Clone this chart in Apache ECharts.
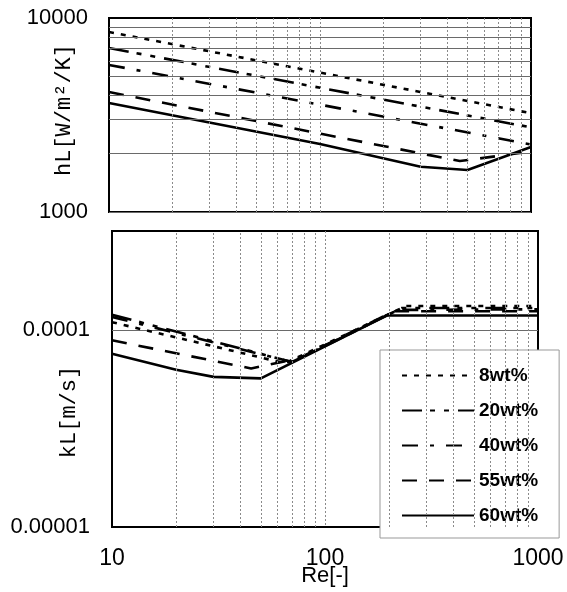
<!DOCTYPE html>
<html>
<head>
<meta charset="utf-8">
<script src="https://cdn.jsdelivr.net/npm/echarts@6/dist/echarts.min.js"></script>
<style>
html,body{margin:0;padding:0;background:#fff;}
#chart{width:567px;height:592px;}
</style>
</head>
<body>
<div id="chart"></div>
<script>
// ---- data ----
const SERIES_NAMES = ['8wt%', '20wt%', '40wt%', '55wt%', '60wt%'];
const RE_TICKS = [10, 100, 1000];
const RE_TICK_LABELS = ['10', '100', '1000'];
const HL_TICKS = [1000, 10000];
const HL_TICK_LABELS = ['1000', '10000'];
const KL_TICKS = [0.00001, 0.0001];
const KL_TICK_LABELS = ['0.00001', '0.0001'];
const RE_MINOR = [20, 30, 40, 50, 60, 70, 80, 90, 200, 300, 400, 500, 600, 700, 800, 900];
const HL_MINOR = [2000, 3000, 4000, 5000, 6000, 7000, 8000, 9000];
const KL_MINOR = [0.00002, 0.00003, 0.00004, 0.00005, 0.00006, 0.00007, 0.00008, 0.00009, 0.0002, 0.0003];

// hL [W/m2/K] vs Re
const HL_8 = [[10, 8470], [1000, 3230]];
const HL_20 = [[10, 7000], [1000, 2730]];
const HL_40 = [[10, 5730], [1000, 2230]];
const HL_55 = [[10, 4150], [460, 1830], [1000, 2050]];
const HL_60 = [[10, 3650], [100, 2240], [300, 1710], [500, 1646], [1000, 2163]];

// kL [m/s] vs Re
const KL_8 = [[10, 1.10e-4], [65, 6.8e-5], [240, 1.33e-4], [1000, 1.33e-4]];
const KL_20 = [[10, 1.20e-4], [70, 6.9e-5], [230, 1.30e-4], [1000, 1.30e-4]];
const KL_40 = [[10, 1.17e-4], [70, 6.9e-5], [220, 1.27e-4], [1000, 1.28e-4]];
const KL_55 = [[10, 8.9e-5], [45, 6.4e-5], [75, 7.2e-5], [210, 1.25e-4], [1000, 1.25e-4]];
const KL_60 = [[10, 7.6e-5], [20, 6.3e-5], [30, 5.8e-5], [50, 5.7e-5], [195, 1.19e-4], [1000, 1.19e-4]];

const HL_DATA = [HL_8, HL_20, HL_40, HL_55, HL_60];
const KL_DATA = [KL_8, KL_20, KL_40, KL_55, KL_60];

// ---- styles ----
const DASHES = [[5, 7], [20, 8, 5, 9, 5, 9], [16, 12, 4, 12], [15, 12], 'solid'];
const TICK_FONT = 'Liberation Sans, Arial, sans-serif';
const NAME_FONT = 'Liberation Mono, DejaVu Sans Mono, monospace';

function tickFormatter(ticks, labels) {
  return function (v) {
    for (let i = 0; i < ticks.length; i++) {
      if (Math.abs(v - ticks[i]) / ticks[i] < 1e-6) return labels[i];
    }
    return '';
  };
}

function minorMarkLine(xs, ys) {
  const data = [];
  xs.forEach(v => data.push({ xAxis: v, lineStyle: { color: '#8a8a8a', width: 1, type: [2, 2] } }));
  ys.forEach(v => data.push({ yAxis: v, lineStyle: { color: '#6a6a6a', width: 1, type: 'solid' } }));
  return { silent: true, symbol: ['none', 'none'], label: { show: false }, emphasis: { disabled: true }, data: data };
}

const series = [];
SERIES_NAMES.forEach((name, i) => {
  series.push({
    name: name, type: 'line', xAxisIndex: 0, yAxisIndex: 0, data: HL_DATA[i],
    symbol: 'none', z: 3,
    itemStyle: { color: '#000' },
    lineStyle: { color: '#000', width: 2.6, type: DASHES[i] },
    markLine: i === 0 ? minorMarkLine(RE_MINOR, HL_MINOR) : undefined
  });
});
SERIES_NAMES.forEach((name, i) => {
  series.push({
    name: name, type: 'line', xAxisIndex: 1, yAxisIndex: 1, data: KL_DATA[i],
    symbol: 'none', z: 3,
    itemStyle: { color: '#000' },
    lineStyle: { color: '#000', width: 2.6, type: DASHES[i] },
    markLine: i === 0 ? minorMarkLine(RE_MINOR, KL_MINOR) : undefined
  });
});

const gridCommon = { show: true, borderColor: '#000', borderWidth: 2, backgroundColor: 'transparent', containLabel: false, outerBoundsMode: 'none' };

const option = {
  animation: false,
  backgroundColor: '#fff',
  grid: [
    Object.assign({ left: 109, right: 36, top: 18, height: 194 }, gridCommon),
    Object.assign({ left: 112, right: 29, top: 231, height: 296 }, gridCommon)
  ],
  xAxis: [
    {
      type: 'log', logBase: 10, gridIndex: 0, min: RE_TICKS[0], max: RE_TICKS[RE_TICKS.length - 1],
      axisLine: { show: false }, axisTick: { show: false }, axisLabel: { show: false },
      splitLine: { show: true, showMinLine: false, showMaxLine: false, lineStyle: { color: '#8a8a8a', width: 1, type: [2, 2] } }
    },
    {
      type: 'log', logBase: 10, gridIndex: 1, min: RE_TICKS[0], max: RE_TICKS[RE_TICKS.length - 1],
      axisLine: { show: false }, axisTick: { show: false },
      axisLabel: { show: true, margin: 20, color: '#000', fontFamily: TICK_FONT, fontSize: 23, formatter: tickFormatter(RE_TICKS, RE_TICK_LABELS), showMinLabel: true, showMaxLabel: true },
      splitLine: { show: true, showMinLine: false, showMaxLine: false, lineStyle: { color: '#8a8a8a', width: 1, type: [2, 2] } },
      name: 'Re[-]', nameLocation: 'middle', nameGap: 38, nameMoveOverlap: false,
      nameTextStyle: { color: '#000', fontFamily: TICK_FONT, fontSize: 22 }
    }
  ],
  yAxis: [
    {
      type: 'log', logBase: 10, gridIndex: 0, min: HL_TICKS[0], max: HL_TICKS[HL_TICKS.length - 1],
      axisLine: { show: false }, axisTick: { show: false },
      axisLabel: { show: true, margin: 21, color: '#000', fontFamily: TICK_FONT, fontSize: 22, formatter: tickFormatter(HL_TICKS, HL_TICK_LABELS), showMinLabel: true, showMaxLabel: true },
      splitLine: { show: true, showMinLine: false, showMaxLine: false, lineStyle: { color: '#6a6a6a', width: 1 } },
      name: 'hL[W/m²/K]', nameLocation: 'middle', nameGap: 34, nameMoveOverlap: false,
      nameTextStyle: { color: '#000', fontFamily: NAME_FONT, fontSize: 22, padding: [0, 0, 0, 10] }
    },
    {
      type: 'log', logBase: 10, gridIndex: 1, min: KL_TICKS[0], max: 0.00032,
      axisLine: { show: false }, axisTick: { show: false },
      axisLabel: { show: true, margin: 22, color: '#000', fontFamily: TICK_FONT, fontSize: 22, formatter: tickFormatter(KL_TICKS, KL_TICK_LABELS), showMinLabel: true, showMaxLabel: true },
      splitLine: { show: true, showMinLine: false, showMaxLine: false, lineStyle: { color: '#6a6a6a', width: 1 } },
      name: 'kL[m/s]', nameLocation: 'middle', nameGap: 32, nameMoveOverlap: false,
      nameTextStyle: { color: '#000', fontFamily: NAME_FONT, fontSize: 22, padding: [0, 66, 0, 0] }
    }
  ],
  legend: {
    data: SERIES_NAMES,
    orient: 'vertical',
    left: 380, top: 350,
    itemWidth: 72, itemHeight: 14, itemGap: 16,
    padding: [16, 21, 13, 21],
    backgroundColor: '#fff', borderColor: '#999', borderWidth: 1,
    selectedMode: false,
    itemStyle: { opacity: 0 },
    textStyle: { color: '#000', fontFamily: TICK_FONT, fontSize: 19, fontWeight: 'bold' }
  },
  series: series
};

const chart = echarts.init(document.getElementById('chart'), null, { renderer: 'canvas' });
chart.setOption(option);
</script>
</body>
</html>
